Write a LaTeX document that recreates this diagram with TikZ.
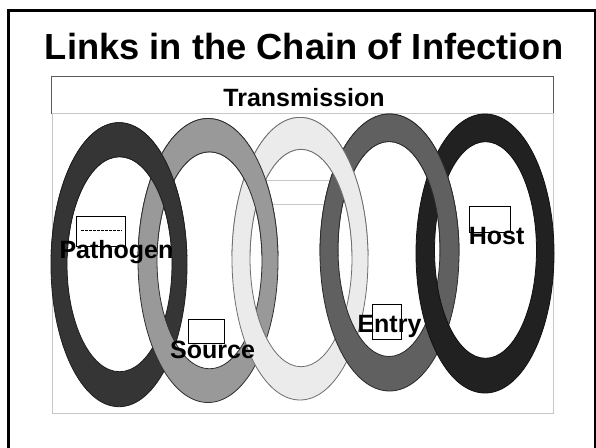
\documentclass[tikz,border=0pt]{standalone}
\usepackage{fontspec}
\setmainfont{Liberation Sans}
\definecolor{rA}{HTML}{353535}
\definecolor{rAe}{HTML}{1E1E1E}
\definecolor{rB}{HTML}{999999}
\definecolor{rBe}{HTML}{2E2E2E}
\definecolor{rC}{HTML}{EBEBEB}
\definecolor{rCe}{HTML}{6E6E6E}
\definecolor{rD}{HTML}{606060}
\definecolor{rDe}{HTML}{2A2A2A}
\definecolor{rE}{HTML}{212121}
\definecolor{rEe}{HTML}{111111}
\definecolor{framegray}{HTML}{C8C8C8}
\definecolor{boxgray}{HTML}{5A5A5A}
\tikzset{
  lbl/.style={font=\bfseries\fontsize{25}{25}\selectfont, inner sep=0pt, anchor=base west},
  phbox/.style={draw=black, line width=0.9pt, inner sep=0pt, anchor=north west},
  ringpath/.style={even odd rule, line width=0.8pt}
}
\begin{document}
\begin{tikzpicture}[x=1pt,y=-1pt]
\useasboundingbox (0,0) rectangle (596,447);
\fill[white] (0,0) rectangle (596,447);
\begin{scope}
\clip (0,0) rectangle (596,447);
\draw[black, line width=2.5pt] (8.7,10.7) rectangle (595.3,470);
\end{scope}
% title
\node[font=\bfseries\fontsize{36.3}{40}\selectfont, anchor=base, inner sep=0pt] (title) at (304,59) {Links in the Chain of Infection};
% transmission box
\node[draw=boxgray, line width=1.1pt, minimum width=502pt, minimum height=37pt, inner sep=0pt, anchor=north west] (tbox) at (51,76) {};
\node[font=\bfseries\fontsize{25}{25}\selectfont, anchor=base, inner sep=0pt] (ttext) at (304,106) {Transmission};
% picture frame
\node[draw=framegray, line width=0.9pt, minimum width=501.3pt, minimum height=300pt, inner sep=0pt, anchor=north west] (frame) at (51.7,113) {};
% faint rectangle in the middle (behind rings)
\node[draw=framegray, line width=0.8pt, minimum width=70pt, minimum height=24.3pt, inner sep=0pt, anchor=north west] (midbox) at (262,180) {};
% rings, full
\foreach \cx/\cy/\rx/\ry/\ix/\iy/\irx/\iry/\fc/\ec in {
  119/264.7/68/142/119.5/264.2/52.5/107.5/rA/rAe,
  208/260.5/70/142/209.5/260.3/52.5/108.5/rB/rBe,
  300/258.7/68/141.3/301/258/51/108.7/rC/rCe,
  389.5/252.5/69.5/138.5/389/249/51/107.5/rD/rDe,
  485/253.5/69/139.5/485.5/250/51/108.3/rE/rEe}{
  \filldraw[ringpath, fill=\fc, draw=\ec] (\cx,\cy) ellipse [x radius=\rx pt, y radius=\ry pt] (\ix,\iy) ellipse [x radius=\irx pt, y radius=\iry pt];
}
% upper halves redrawn so left ring lies over right ring at the top
\begin{scope}
\clip (0,100) rectangle (596,255);
\foreach \cx/\cy/\rx/\ry/\ix/\iy/\irx/\iry/\fc/\ec in {
  389.5/252.5/69.5/138.5/389/249/51/107.5/rD/rDe,
  300/258.7/68/141.3/301/258/51/108.7/rC/rCe,
  208/260.5/70/142/209.5/260.3/52.5/108.5/rB/rBe,
  119/264.7/68/142/119.5/264.2/52.5/107.5/rA/rAe}{
  \filldraw[ringpath, fill=\fc, draw=\ec] (\cx,\cy) ellipse [x radius=\rx pt, y radius=\ry pt] (\ix,\iy) ellipse [x radius=\irx pt, y radius=\iry pt];
}
\end{scope}
% placeholder boxes
\node[phbox, minimum width=49.3pt, minimum height=30pt] (pbox) at (75.7,216) {};
\draw[black, line width=0.5pt, dash pattern=on 3pt off 1pt] (81,230) -- (121.7,230);
\node[phbox, minimum width=35.7pt, minimum height=24pt] (sbox) at (188.3,319.3) {};
\node[phbox, minimum width=29.3pt, minimum height=35pt] (ebox) at (371.7,304.3) {};
\node[phbox, minimum width=40.7pt, minimum height=26pt] (hbox) at (469.3,206) {};
% labels
\node[lbl] (pathogen) at (59.3,258.3) {Pathogen};
\node[lbl] (source) at (170,358.3) {Source};
\node[lbl] (entry) at (357.3,332.7) {Entry};
\node[lbl] (host) at (468.7,244.3) {Host};
\end{tikzpicture}
\end{document}
